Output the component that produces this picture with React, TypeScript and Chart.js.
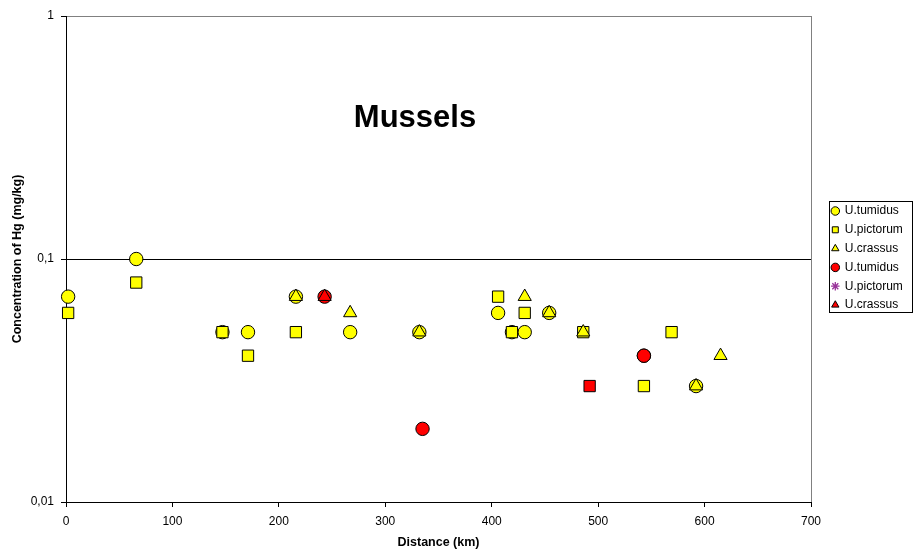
import React, { useEffect, useRef } from 'react';
import { Chart, registerables } from 'chart.js';

Chart.register(...registerables);

const CHART_TITLE = 'Mussels';
const X_TITLE = 'Distance (km)';
const Y_TITLE = 'Concentration of Hg (mg/kg)';
const SERIES_NAMES = ['U.tumidus', 'U.pictorum', 'U.crassus', 'U.tumidus', 'U.pictorum', 'U.crassus'];

const TUMIDUS_X = [2, 66, 147, 171, 216, 267, 332, 406, 419, 431, 454, 543, 592];
const TUMIDUS_Y = [0.07, 0.1, 0.05, 0.05, 0.07, 0.05, 0.05, 0.06, 0.05, 0.05, 0.06, 0.04, 0.03];
const PICTORUM_X = [2, 66, 147, 171, 216, 406, 419, 431, 486, 543, 569];
const PICTORUM_Y = [0.06, 0.08, 0.05, 0.04, 0.05, 0.07, 0.05, 0.06, 0.05, 0.03, 0.05];
const CRASSUS_X = [216, 267, 332, 431, 454, 486, 592, 615];
const CRASSUS_Y = [0.07, 0.06, 0.05, 0.07, 0.06, 0.05, 0.03, 0.04];
const RED_TUMIDUS_X = [243, 335, 543];
const RED_TUMIDUS_Y = [0.07, 0.02, 0.04];
const RED_PICTORUM_X = [492];
const RED_PICTORUM_Y = [0.03];
const RED_CRASSUS_X = [243];
const RED_CRASSUS_Y = [0.07];

const X_TICKS = [0, 100, 200, 300, 400, 500, 600, 700];
const Y_TICKS = [0.01, 0.1, 1];
const Y_TICK_LABELS = ['0,01', '0,1', '1'];

const FONT = '"Liberation Sans", Arial, sans-serif';
const YELLOW = '#FFFF00';
const RED = '#FF0000';
const PURPLE = '#993399';

const pts = (xs: number[], ys: number[]) => xs.map((x, i) => ({ x, y: ys[i] }));

const decor = {
  id: 'decor',
  afterLayout(chart: any) {
    const lg = chart.legend;
    if (lg) {
      lg.left = 825;
      lg.right = 913;
      lg.top = 198.2;
      lg.bottom = 330;
      lg.width = lg.right - lg.left;
      lg.height = lg.bottom - lg.top;
    }
  },
  afterDraw(chart: any) {
    const ctx = chart.ctx;
    const ca = chart.chartArea;
    ctx.save();
    ctx.strokeStyle = '#000';
    ctx.lineWidth = 1;
    ctx.strokeRect(829.5, 201.5, 83, 111);
    ctx.fillStyle = '#000';
    ctx.font = `bold 31px ${FONT}`;
    ctx.textAlign = 'center';
    ctx.textBaseline = 'alphabetic';
    ctx.fillText(CHART_TITLE, ca.left + (ca.right - ca.left) * 0.4685, 127);
    ctx.restore();
  },
};

export default function App() {
  const ref = useRef<HTMLCanvasElement | null>(null);
  useEffect(() => {
    document.body.style.margin = '0';
    const canvas = ref.current;
    if (!canvas) return;
    const base = { borderColor: '#000', borderWidth: 1, showLine: false, clip: false };
    const datasets: any[] = [
      { ...base, label: SERIES_NAMES[0], data: pts(TUMIDUS_X, TUMIDUS_Y), backgroundColor: YELLOW, pointStyle: 'circle', pointRadius: 6.7, order: 5 },
      { ...base, label: SERIES_NAMES[1], data: pts(PICTORUM_X, PICTORUM_Y), backgroundColor: YELLOW, pointStyle: 'rect', pointRadius: 8, order: 4 },
      { ...base, label: SERIES_NAMES[2], data: pts(CRASSUS_X, CRASSUS_Y), backgroundColor: YELLOW, pointStyle: 'triangle', pointRadius: 7.6, order: 3 },
      { ...base, label: SERIES_NAMES[3], data: pts(RED_TUMIDUS_X, RED_TUMIDUS_Y), backgroundColor: RED, pointStyle: 'circle', pointRadius: 6.7, order: 2 },
      { ...base, label: SERIES_NAMES[4], data: pts(RED_PICTORUM_X, RED_PICTORUM_Y), backgroundColor: RED, pointStyle: 'rect', pointRadius: 8, order: 1 },
      { ...base, label: SERIES_NAMES[5], data: pts(RED_CRASSUS_X, RED_CRASSUS_Y), backgroundColor: RED, pointStyle: 'triangle', pointRadius: 7.6, order: 0 },
    ];
    const chart = new Chart(canvas, {
      type: 'scatter',
      data: { datasets },
      plugins: [decor],
      options: {
        animation: false,
        responsive: false,
        events: [],
        layout: { padding: { top: 16, right: 105, bottom: 0, left: 0 } },
        plugins: {
          tooltip: { enabled: false },
          title: { display: false },
          legend: {
            display: true,
            position: 'chartArea' as any,
            align: 'start',
            labels: {
              usePointStyle: true,
              boxWidth: 7,
              boxHeight: 6,
              padding: 6.8,
              color: '#000',
              font: { family: FONT, size: 12 },
              generateLabels: (c: any) => {
                const items = Chart.defaults.plugins.legend.labels.generateLabels(c);
                items.sort((a: any, b: any) => a.datasetIndex - b.datasetIndex);
                return items.map((it: any) =>
                  it.datasetIndex === 4
                    ? { ...it, pointStyle: 'star', strokeStyle: PURPLE, fillStyle: PURPLE, lineWidth: 1.3 }
                    : it
                );
              },
            },
          },
        },
        scales: {
          x: {
            type: 'linear',
            min: 0,
            max: 700,
            afterFit: (s: any) => { s.height = 52; },
            afterBuildTicks: (s: any) => { s.ticks = X_TICKS.map((v) => ({ value: v })); },
            ticks: { autoSkip: false, maxRotation: 0, padding: 7, color: '#000', font: { family: FONT, size: 12 } },
            grid: {
              drawOnChartArea: true,
              tickLength: 5,
              tickColor: '#000',
              color: (ctx: any) => (ctx.tick && ctx.tick.value === 700 ? '#808080' : 'rgba(0,0,0,0)'),
            },
            border: { color: '#000', width: 1 },
            title: { display: true, text: X_TITLE, color: '#000', font: { family: FONT, size: 12.5, weight: 'bold' }, padding: { top: 0, bottom: 3.5 } },
          },
          y: {
            type: 'logarithmic',
            min: 0.01,
            max: 1,
            afterFit: (s: any) => { s.width = 66; },
            afterBuildTicks: (s: any) => { s.ticks = Y_TICKS.map((v) => ({ value: v })); },
            ticks: {
              padding: 7,
              color: '#000',
              font: { family: FONT, size: 12 },
              callback: (v: any) => {
                const i = Y_TICKS.indexOf(Number(v));
                return i >= 0 ? Y_TICK_LABELS[i] : '';
              },
            },
            grid: {
              drawOnChartArea: true,
              tickLength: 5,
              tickColor: '#000',
              color: (ctx: any) => {
                const v = ctx.tick ? ctx.tick.value : null;
                if (v === 0.1) return '#000';
                if (v === 1) return '#808080';
                return 'rgba(0,0,0,0)';
              },
            },
            border: { color: '#000', width: 1 },
            title: { display: true, text: Y_TITLE, color: '#000', font: { family: FONT, size: 12.5, weight: 'bold' }, padding: { top: 10.5, bottom: 0 } },
          },
        },
      } as any,
    });
    return () => chart.destroy();
  }, []);
  return (
    <div style={{ width: 916, height: 554, background: '#fff' }}>
      <canvas ref={ref} width={916} height={554} style={{ display: 'block' }} />
    </div>
  );
}
